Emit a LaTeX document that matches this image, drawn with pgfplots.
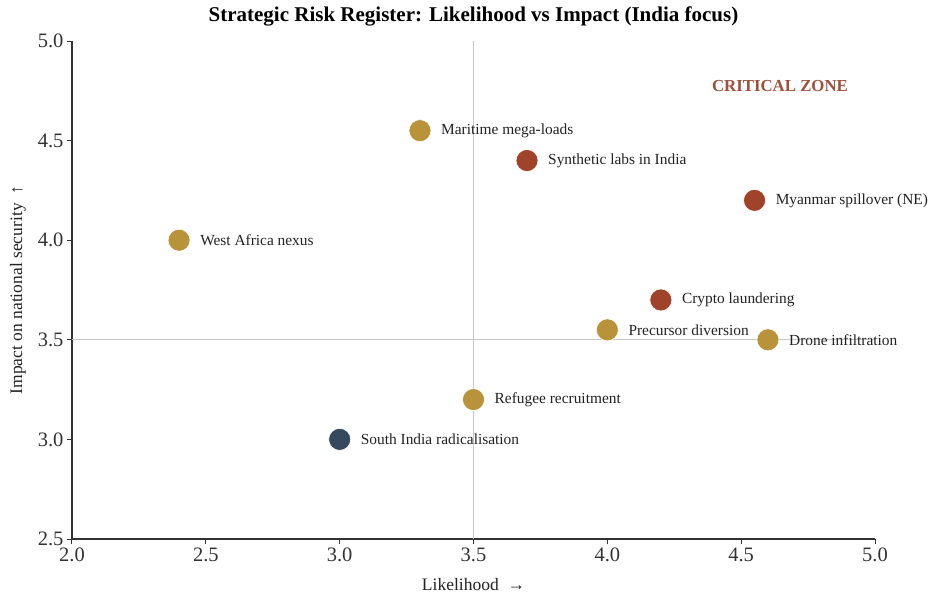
\documentclass[border=0pt]{standalone}
\usepackage{fontspec}
\setmainfont{Liberation Serif}
\usepackage{pgfplots}
\pgfplotsset{compat=1.18}

\definecolor{gold}{HTML}{B8933A}
\definecolor{rust}{HTML}{A0432B}
\definecolor{navy}{HTML}{34495E}
\definecolor{zone}{HTML}{A0503A}
\definecolor{spine}{HTML}{333333}
\definecolor{txt}{HTML}{222222}

\tikzset{lbl/.style={anchor=west, inner sep=0pt, xshift=21pt, font=\fontsize{15.4}{17}\selectfont, text=txt}}

\begin{document}
\begin{tikzpicture}
\begin{axis}[
    scale only axis,
    width=803pt, height=498pt,
    xmin=2, xmax=5, ymin=2.5, ymax=5,
    xtick={2,2.5,...,5}, ytick={2.5,3,...,5},
    axis x line*=bottom, axis y line*=left,
    axis line style={spine, line width=1.1pt, -},
    tick style={spine, line width=1pt},
    tick align=outside, major tick length=5pt,
    /pgf/number format/assume math mode=true,
    /pgf/number format/fixed, /pgf/number format/fixed zerofill,
    /pgf/number format/precision=1,
    ticklabel style={font=\fontsize{20.5}{22}\selectfont, text=spine},
    clip=false,
    xlabel={Likelihood \ →},
    ylabel={Impact on national security \ ↑},
    label style={font=\fontsize{17.5}{19}\selectfont, text=txt},
    xlabel style={at={(axis description cs:0.5,0)}, anchor=center, yshift=-46pt},
    ylabel style={at={(axis description cs:0,0.5)}, anchor=center, rotate=0, yshift=54pt},
]
% reference lines
\addplot[color=black!22, line width=1.1pt, forget plot] coordinates {(3.5,2.5) (3.5,5)};
\addplot[color=black!22, line width=1.1pt, forget plot] coordinates {(2,3.5) (5,3.5)};

% gold risks
\addplot[only marks, mark=*, mark size=11pt, mark options={fill=gold, draw=white, line width=0.6pt}]
  coordinates {(3.3,4.55) (2.4,4.0) (4.0,3.55) (4.6,3.5) (3.5,3.2)};
% rust risks
\addplot[only marks, mark=*, mark size=11pt, mark options={fill=rust, draw=white, line width=0.6pt}]
  coordinates {(3.7,4.4) (4.55,4.2) (4.2,3.7)};
% navy risk
\addplot[only marks, mark=*, mark size=11pt, mark options={fill=navy, draw=white, line width=0.6pt}]
  coordinates {(3.0,3.0)};

\node[lbl] at (axis cs:3.3,4.55) {Maritime mega-loads};
\node[lbl] at (axis cs:3.7,4.4) {Synthetic labs in India};
\node[lbl] at (axis cs:4.55,4.2) {Myanmar spillover (NE)};
\node[lbl] at (axis cs:2.4,4.0) {West Africa nexus};
\node[lbl] at (axis cs:4.2,3.7) {Crypto laundering};
\node[lbl] at (axis cs:4.0,3.55) {Precursor diversion};
\node[lbl] at (axis cs:4.6,3.5) {Drone infiltration};
\node[lbl] at (axis cs:3.5,3.2) {Refugee recruitment};
\node[lbl] at (axis cs:3.0,3.0) {South India radicalisation};

\node[font=\bfseries\fontsize{16.8}{18}\selectfont, text=zone] at (axis cs:4.645,4.775) {CRITICAL ZONE};

\node[font=\bfseries\fontsize{21}{23}\selectfont, text=black] at (rel axis cs:0.5,1) [yshift=25pt] {Strategic Risk Register: Likelihood vs Impact (India focus)};
\end{axis}
\pgfresetboundingbox
\useasboundingbox (-72pt,-59pt) rectangle (858pt,539pt);
\end{tikzpicture}
\end{document}
